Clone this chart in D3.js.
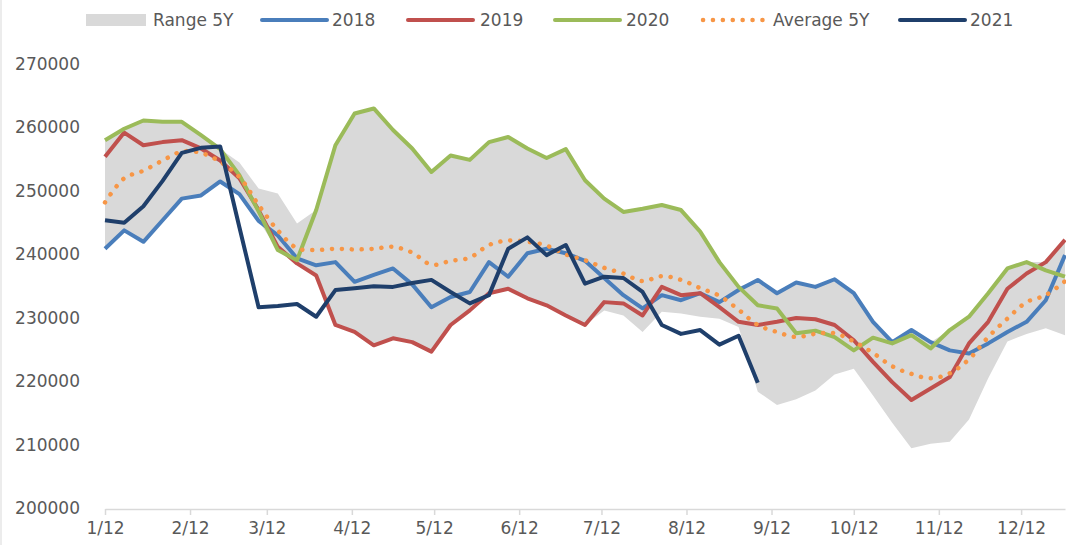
<!DOCTYPE html>
<html><head><meta charset="utf-8">
<script src="https://cdn.jsdelivr.net/npm/d3@7/dist/d3.min.js"></script>
<style>
body{margin:0;background:#fff}
svg text{font-family:"DejaVu Sans",sans-serif;fill:#595959}
</style>
</head><body>
<svg id="chart" width="1066" height="545"></svg>
<script>
// ---------- data ----------
const firstWeek = new Date(2021, 0, 12);
const tickLabels = ["1/12","2/12","3/12","4/12","5/12","6/12","7/12","8/12","9/12","10/12","11/12","12/12"];
const yTicks = [200000,210000,220000,230000,240000,250000,260000,270000];
const seriesNames = ["Range 5Y","2018","2019","2020","Average 5Y","2021"];

const s2018 = [240900,243800,242000,245400,248800,249300,251500,249500,245300,243000,239400,238300,238800,235700,236800,237800,235300,231700,233300,234100,238800,236500,240200,240900,240200,239000,236300,233600,231500,233600,232800,233900,232500,234400,236000,233900,235600,234900,236100,233900,229400,226200,228100,226200,224900,224400,226000,227800,229400,232800,239900];
const s2019 = [255400,259200,257200,257700,258000,256700,254800,252000,247000,241200,238600,236700,228900,227800,225700,226800,226200,224700,228900,231200,233900,234600,233100,232000,230400,228900,232500,232300,230400,234900,233600,233900,231700,229400,228900,229400,230000,229800,228900,226500,223100,219900,217100,218900,220700,226000,229400,234600,237000,238800,242300];
const s2020 = [258000,259800,261100,260900,260900,258800,256600,252500,246800,240700,239100,247000,257200,262200,263000,259600,256700,253000,255600,254900,257700,258500,256700,255200,256600,251700,248800,246700,247200,247800,247000,243600,238800,234900,232000,231500,227600,228000,227000,224900,226900,226000,227300,225200,228100,230200,233900,237800,238800,237500,236500];
const avg5y = [248200,252000,253200,254800,256200,256000,254600,252200,247800,243800,241000,240700,240900,240800,240900,241200,240300,238400,239000,239500,241500,242200,242000,241400,240000,239100,237900,237000,235800,236600,236000,234700,233500,231300,228900,227800,227000,227500,227600,226300,224500,222400,221200,220500,221300,223500,227000,229900,232500,233600,235800];
const s2021 = [245400,245000,247600,251600,256000,256800,257000,244300,231700,231900,232200,230200,234400,234700,235000,234900,235500,236000,234100,232300,233600,240900,242700,239900,241500,235400,236500,236300,234100,228900,227500,228100,225800,227200,219800];
const rangeMax = [258000,259800,261100,260900,260900,258800,256600,254500,250400,249600,244900,247000,257200,262200,263000,259600,256700,253000,255600,254900,257700,258500,256700,255200,256600,251700,248800,246700,247200,247800,247000,243600,238800,234900,236000,233900,235600,234900,236100,233900,229400,226200,228100,226200,228100,230200,233900,237800,238800,238800,242300];
const rangeMin = [240900,243800,242000,245400,248800,249300,251500,249500,245300,240700,238600,236700,228900,227800,225700,226800,226200,224700,228900,231200,233900,234600,233100,232000,230400,228900,231200,230400,227800,231000,230700,230200,229900,228600,218400,216300,217200,218600,221100,222000,217800,213500,209500,210200,210500,214000,220500,226300,227500,228400,227300];

// ---------- scales ----------
const svg = d3.select("#chart");
const weekDate = k => d3.timeDay.offset(firstWeek, 7 * k);
const x = d3.scaleTime()
  .domain([firstWeek, weekDate(50)])
  .range([105, 1065]);
const y = d3.scaleLinear().domain([200000, 270000]).range([508.5, 64]);

const colors = {
  "Range 5Y": "#D9D9D9",
  "2018": "#4A7EBB",
  "2019": "#C0504D",
  "2020": "#9BBB59",
  "Average 5Y": "#F79646",
  "2021": "#1F3F6B"
};

// chart border on left
svg.append("line").attr("x1",1).attr("x2",1).attr("y1",0).attr("y2",545)
  .attr("stroke","#D9D9D9").attr("stroke-width",1);

// ---------- range band ----------
const bandData = rangeMax.map((v, i) => ({date: weekDate(i), max: v, min: rangeMin[i]}));
svg.append("path")
  .datum(bandData)
  .attr("fill", colors["Range 5Y"])
  .attr("d", d3.area().x(d => x(d.date)).y0(d => y(d.min)).y1(d => y(d.max)));

// ---------- x axis ----------
const tickDates = tickLabels.map((t, i) => new Date(2021, i, 12));
const xAxis = svg.append("g")
  .attr("transform", "translate(0,509)")
  .call(d3.axisBottom(x).tickValues(tickDates).tickFormat((d, i) => tickLabels[i]).tickSize(6).tickSizeOuter(0).tickPadding(7));
xAxis.select(".domain").attr("stroke", "#D9D9D9").attr("stroke-width", 1.5);
xAxis.selectAll(".tick line").attr("stroke", "#D9D9D9").attr("stroke-width", 1.5);
xAxis.selectAll(".tick text").attr("font-size", 17).attr("fill", "#595959")
  .style("font-family", "DejaVu Sans");

// ---------- y axis ----------
const yAxis = svg.append("g")
  .attr("transform", "translate(80,0)")
  .call(d3.axisLeft(y).tickValues(yTicks).tickFormat(d3.format("d")).tickSize(0).tickPadding(0));
yAxis.select(".domain").remove();
yAxis.selectAll(".tick text").attr("font-size", 17).attr("fill", "#595959")
  .style("font-family", "DejaVu Sans");

// ---------- lines ----------
function drawLine(values, name, opts = {}) {
  const data = values.map((v, i) => ({date: weekDate(i), v}));
  const line = d3.line().defined(d => d.v != null).x(d => x(d.date)).y(d => y(d.v));
  if (opts.curve) line.curve(opts.curve);
  const p = svg.append("path").datum(data)
    .attr("fill", "none")
    .attr("stroke", colors[name])
    .attr("stroke-width", opts.width || 4)
    .attr("stroke-linejoin", "round")
    .attr("stroke-linecap", opts.cap || "butt")
    .attr("d", line);
  if (opts.dash) p.attr("stroke-dasharray", opts.dash);
}
drawLine(s2018, "2018");
drawLine(s2019, "2019");
drawLine(s2020, "2020");
drawLine(avg5y, "Average 5Y", {curve: d3.curveCatmullRom.alpha(0.5), dash: "0.1 9.8", cap: "round", width: 4.5});
drawLine(s2021, "2021");

// ---------- legend ----------
const legendSym = [86, 262, 408, 555, 701, 900];
const legendTxt = [153, 332, 480, 626, 773, 970];
const ly = 20;
const lg = svg.append("g");
seriesNames.forEach((name, i) => {
  if (name === "Range 5Y") {
    lg.append("rect").attr("x", legendSym[i]).attr("y", ly - 6).attr("width", 60).attr("height", 12)
      .attr("fill", colors[name]);
  } else if (name === "Average 5Y") {
    lg.append("line").attr("x1", legendSym[i] + 2).attr("x2", legendSym[i] + 62).attr("y1", ly).attr("y2", ly)
      .attr("stroke", colors[name]).attr("stroke-width", 4.5).attr("stroke-linecap", "round")
      .attr("stroke-dasharray", "0.1 9.8");
  } else {
    lg.append("line").attr("x1", legendSym[i]).attr("x2", legendSym[i] + 65).attr("y1", ly).attr("y2", ly)
      .attr("stroke", colors[name]).attr("stroke-width", 4).attr("stroke-linecap", "round");
  }
  lg.append("text").attr("x", legendTxt[i]).attr("y", ly).attr("dy", "0.35em")
    .attr("font-size", 17).text(name);
});
</script>
</body></html>
